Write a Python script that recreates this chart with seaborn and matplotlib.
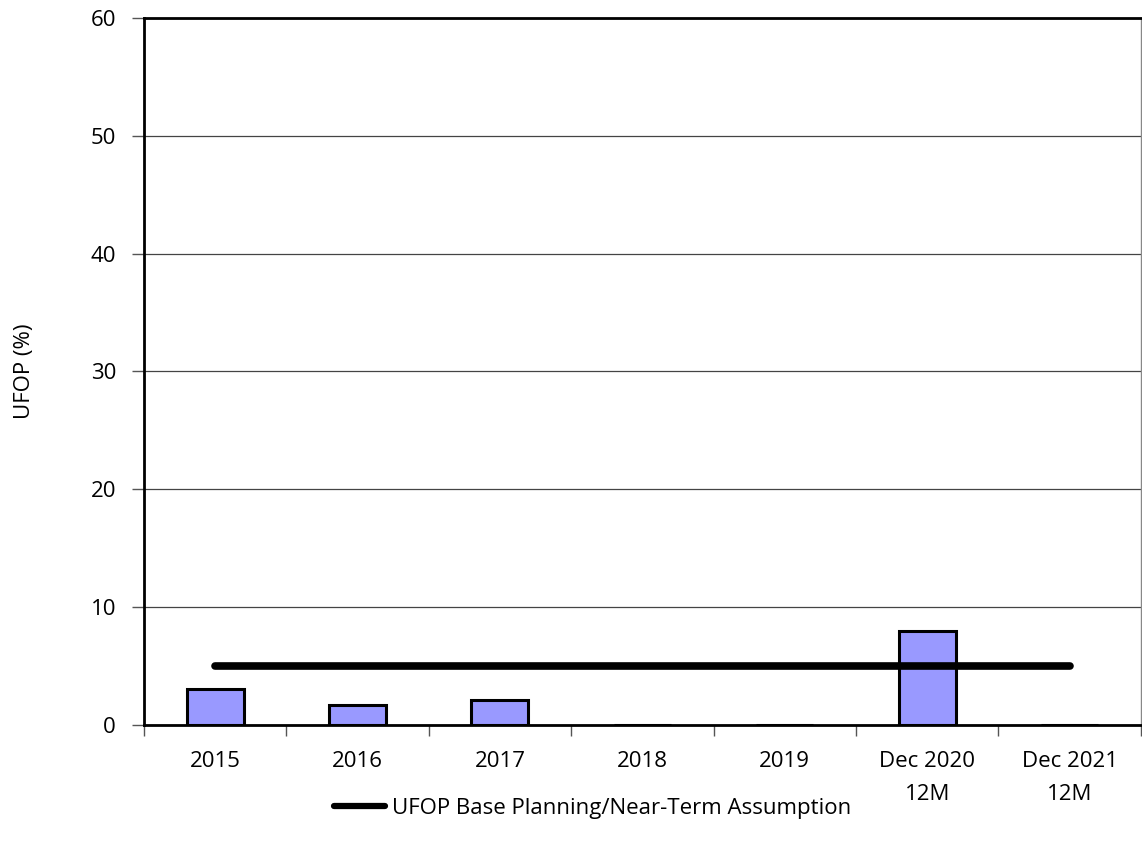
import matplotlib
matplotlib.use("Agg")
import matplotlib.pyplot as plt
import numpy as np
import pandas as pd
import seaborn as sns
from matplotlib.lines import Line2D

categories = ["2015", "2016", "2017", "2018", "2019", "Dec 2020\n12M", "Dec 2021\n12M"]
ufop_values = [3.1, 1.7, 2.1, 0.0, 0.0, 8.0, 0.0]
base_assumption = [5, 5, 5, 5, 5, 5, 5]
y_ticks = [0, 10, 20, 30, 40, 50, 60]

sns.set_theme(style="white")
plt.rcParams["font.family"] = ["Open Sans", "DejaVu Sans"]
plt.rcParams["text.color"] = "black"
plt.rcParams["xtick.color"] = "black"
plt.rcParams["ytick.color"] = "black"
plt.rcParams["axes.labelcolor"] = "black"

FS = 16

df = pd.DataFrame({"category": categories, "ufop": ufop_values})

fig = plt.figure(figsize=(11.42, 8.5), dpi=100)
ax = fig.add_axes([0.126, 0.147, 0.873, 0.832])

sns.barplot(data=df, x="category", y="ufop", color="#9999FF", saturation=1,
            edgecolor="black", linewidth=2.2, width=0.4, ax=ax, zorder=3)

xpos = np.arange(len(categories))
ax.plot(xpos, base_assumption, color="black", linewidth=5.5,
        solid_capstyle="round", zorder=4)

ax.set_xlim(-0.5, len(categories) - 0.5)
ax.set_ylim(0, 60)
ax.set_yticks(y_ticks)
ax.set_yticklabels([str(t) for t in y_ticks])

# labels sit under the bars, ticks mark the category boundaries
ax.set_xticks(np.arange(len(categories) + 1) - 0.5)
ax.set_xticklabels([])
ax.set_xticks(xpos, minor=True)
ax.set_xticklabels(categories, minor=True, linespacing=1.75)
ax.tick_params(axis="x", which="minor", bottom=True, length=0, pad=19, labelsize=FS)
ax.tick_params(axis="x", which="major", bottom=True, length=8, width=1,
               color="#555555", direction="out")
ax.tick_params(axis="y", left=True, length=9, width=1, color="#555555",
               direction="out", pad=11, labelsize=FS)

ax.yaxis.grid(True, color="#444444", linewidth=0.9)
ax.set_axisbelow(True)
ax.set_xlabel("")
ax.set_ylabel("UFOP (%)", fontsize=FS)
ax.yaxis.set_label_coords(-0.109, 0.5)

for side in ["left", "bottom", "top"]:
    ax.spines[side].set_color("black")
    ax.spines[side].set_linewidth(2)
ax.spines["right"].set_color("#888888")
ax.spines["right"].set_linewidth(1)

handle = Line2D([0], [0], color="black", linewidth=4.5, solid_capstyle="round")
fig.legend([handle], ["UFOP Base Planning/Near-Term Assumption"], loc="center",
           bbox_to_anchor=(0.519, 0.049), frameon=False, fontsize=FS,
           handlelength=2.3, handletextpad=0.3)

fig.savefig("out.png", dpi=100)
